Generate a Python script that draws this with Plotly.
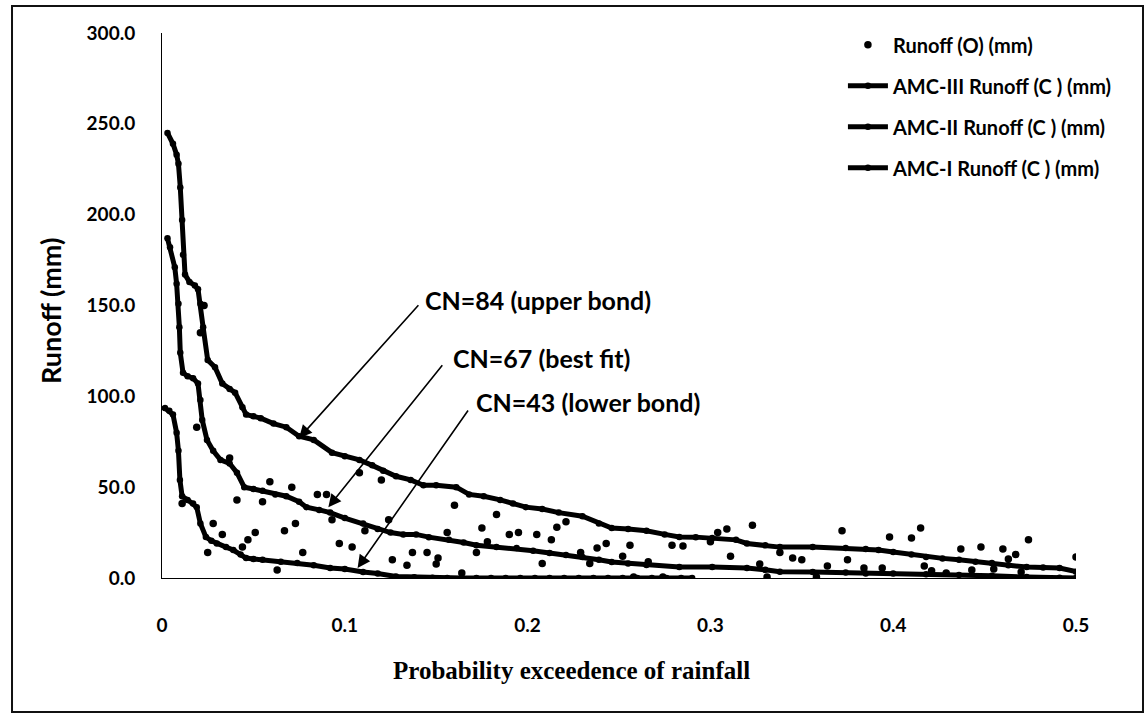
import plotly.graph_objects as go

# Observed runoff (mm) against probability of exceedence of rainfall
obs_p = [0.021, 0.023, 0.019, 0.037, 0.059, 0.071, 0.041, 0.055, 0.085, 0.090,
         0.011, 0.028, 0.033, 0.051, 0.047, 0.044, 0.025, 0.067, 0.073, 0.077,
         0.093, 0.097, 0.104, 0.063, 0.108, 0.120, 0.111, 0.124, 0.126, 0.134,
         0.137, 0.145, 0.151, 0.150, 0.156, 0.160, 0.175, 0.183, 0.172, 0.178,
         0.190, 0.195, 0.205, 0.213, 0.216, 0.221, 0.208, 0.164, 0.229, 0.234,
         0.238, 0.243, 0.256, 0.279, 0.285, 0.304, 0.309, 0.323, 0.300, 0.311,
         0.327, 0.338, 0.345, 0.350, 0.372, 0.375, 0.364, 0.384, 0.252, 0.266,
         0.258, 0.274, 0.331, 0.358, 0.398, 0.410, 0.415, 0.437, 0.448, 0.460,
         0.467, 0.463, 0.474, 0.500, 0.417, 0.421, 0.443, 0.429, 0.455, 0.470,
         0.394]
obs_q = [135, 150, 83, 66, 53, 50, 43, 42, 46, 46,
         41, 30, 24, 25, 21, 17, 14, 26, 30, 14,
         32, 19, 17, 4.4, 58, 54, 26, 32, 10, 7,
         14, 14, 11, 7.7, 25, 40, 27.5, 35, 14, 20,
         24, 25, 24, 21, 28, 31, 8, 2.8, 14, 8,
         16.5, 19, 18, 18, 17.6, 25, 27, 29, 20, 12,
         7.7, 14, 11, 10, 26, 10, 6.6, 5.5, 12, 9,
         0.5, 0.5, 0.5, 0.5, 22.6, 22, 27.5, 16, 17, 16,
         13, 10.5, 21, 11.6, 6.6, 4, 4.4, 2.8, 5, 3.3,
         5.5]

# Computed runoff, AMC-III (CN=84)
amc3_p = [0.003, 0.006, 0.008, 0.009, 0.010, 0.011, 0.0115, 0.0126, 0.015, 0.018,
          0.0197, 0.021, 0.0225, 0.025, 0.029, 0.033, 0.037, 0.040, 0.044, 0.046,
          0.050, 0.054, 0.061, 0.068, 0.075, 0.083, 0.093, 0.100, 0.108, 0.115,
          0.121, 0.128, 0.136, 0.143, 0.150, 0.161, 0.168, 0.176, 0.185, 0.192,
          0.199, 0.208, 0.217, 0.230, 0.239, 0.246, 0.255, 0.265, 0.275, 0.283,
          0.292, 0.301, 0.314, 0.320, 0.330, 0.338, 0.356, 0.374, 0.385, 0.392,
          0.400, 0.410, 0.418, 0.427, 0.436, 0.445, 0.454, 0.463, 0.473, 0.482,
          0.491, 0.500]
amc3_q = [245, 239, 233, 228, 215, 197, 178, 167, 163, 161,
          159, 151, 138, 120, 116, 107, 104, 102, 94, 90,
          89, 88, 85, 83, 78, 76, 69, 67, 65, 62,
          59, 56, 54, 51, 51, 50, 46, 45, 43, 41,
          39, 38, 36, 34, 30, 27.5, 27, 26, 24, 22.6,
          22.5, 22, 21, 19, 18, 17, 17, 16.5, 16, 15.4,
          14.3, 13, 11.6, 10.8, 10, 9, 8.3, 7, 6, 5.8,
          5.5, 3.5]

# Computed runoff, AMC-II (CN=67)
amc2_p = [0.003, 0.0044, 0.007, 0.008, 0.009, 0.0095, 0.010, 0.0115, 0.014, 0.017,
          0.0197, 0.021, 0.022, 0.0246, 0.028, 0.032, 0.037, 0.041, 0.045, 0.050,
          0.055, 0.062, 0.068, 0.075, 0.079, 0.086, 0.092, 0.100, 0.110, 0.118,
          0.125, 0.132, 0.139, 0.146, 0.157, 0.165, 0.172, 0.183, 0.194, 0.203,
          0.212, 0.221, 0.230, 0.239, 0.246, 0.255, 0.265, 0.283, 0.301, 0.320,
          0.330, 0.338, 0.356, 0.374, 0.385, 0.400, 0.418, 0.436, 0.454, 0.473,
          0.491, 0.500]
amc2_q = [187, 182, 171, 162, 151, 138, 124, 113, 111, 110,
          107, 98, 87, 76, 70, 65, 63, 58, 50, 49,
          48, 46, 45, 42, 39, 37.5, 36, 33, 30, 27,
          25, 24, 24, 22.5, 21, 19.5, 18, 17, 16.5, 15,
          13.8, 12.7, 11.6, 10, 8.8, 8, 7.2, 6, 6, 5.5,
          4.5, 3.5, 3.3, 3, 2.5, 2.5, 2, 1.7, 1.2, 0.5,
          0.2, 0]

# Computed runoff, AMC-I (CN=43)
amc1_p = [0.0016, 0.004, 0.006, 0.008, 0.009, 0.0098, 0.011, 0.014, 0.017, 0.019,
          0.021, 0.024, 0.027, 0.030, 0.035, 0.039, 0.043, 0.046, 0.050, 0.055,
          0.065, 0.074, 0.083, 0.092, 0.100, 0.110, 0.118, 0.128, 0.138, 0.148,
          0.156, 0.164, 0.172, 0.180, 0.188, 0.196, 0.204, 0.212, 0.220, 0.228,
          0.236, 0.244, 0.252, 0.260, 0.268, 0.276, 0.284, 0.290]
amc1_q = [93.6, 92, 90, 80, 70, 54, 45, 43, 41, 39,
          30, 22.6, 20.5, 19, 17, 15.4, 13, 11, 10.5, 10,
          9, 8.3, 7, 5.5, 5, 3.3, 2.5, 0.8, 0.4, 0.2,
          0, 0, 0, 0, 0, 0, 0, 0, 0, 0,
          0, 0, 0, 0, 0, 0, 0, 0]

y_ticks = [0, 50, 100, 150, 200, 250, 300]
x_ticks = [0, 0.1, 0.2, 0.3, 0.4, 0.5]
x_tick_text = ["0", "0.1", "0.2", "0.3", "0.4", "0.5"]

# (label, label x, label y, arrow tail x, tail y, head x, head y)
cn_labels = [
    ("CN=84 (upper bond)", 0.1430, 153, 0.141, 151, 0.075, 77),
    ("CN=67 (best fit)", 0.1583, 121, 0.154, 118, 0.091, 39),
    ("CN=43 (lower bond)", 0.1708, 97, 0.168, 93, 0.107, 5.5),
]

INK = "#000000"
SANS = "Lato, 'Open Sans', sans-serif"

fig = go.Figure()
fig.add_trace(go.Scatter(
    x=obs_p, y=obs_q, mode="markers", name="Runoff (O) (mm)",
    marker=dict(color=INK, size=7.5), legendgroup="o"))
for name, px, qy, grp in [
    ("AMC-III Runoff (C ) (mm)", amc3_p, amc3_q, "c3"),
    ("AMC-II Runoff (C ) (mm)", amc2_p, amc2_q, "c2"),
    ("AMC-I Runoff (C ) (mm)", amc1_p, amc1_q, "c1"),
]:
    fig.add_trace(go.Scatter(
        x=px, y=qy, mode="lines+markers", name=name, legendgroup=grp,
        line=dict(color=INK, width=5),
        marker=dict(color=INK, size=6.5)))

annotations = []
for text, lx, ly, tx, ty, hx, hy in cn_labels:
    annotations.append(dict(
        x=hx, y=hy, ax=tx, ay=ty, xref="x", yref="y", axref="x", ayref="y",
        text="", showarrow=True, arrowhead=2, arrowsize=1.6, arrowwidth=1.6,
        arrowcolor=INK))
    annotations.append(dict(
        x=lx, y=ly, xref="x", yref="y", text=text, showarrow=False,
        xanchor="left", yanchor="middle",
        font=dict(family=SANS, size=25, color=INK, weight="bold")))

annotations.append(dict(
    x=0.4475, y=-0.1706, xref="paper", yref="paper",
    text="<b>Probability exceedence of rainfall</b>", showarrow=False,
    xanchor="center", yanchor="middle",
    font=dict(family="'Liberation Serif', 'Times New Roman', serif", size=25, color=INK)))
annotations.append(dict(
    x=-0.1214, y=0.49, xref="paper", yref="paper",
    text="<b>Runoff (mm)</b>", showarrow=False, textangle=-90,
    xanchor="center", yanchor="middle",
    font=dict(family=SANS, size=27, color=INK)))

fig.update_layout(
    width=1146, height=714,
    margin=dict(l=162, r=70, t=33, b=136),
    paper_bgcolor="white", plot_bgcolor="white",
    showlegend=True,
    legend=dict(
        x=0.745, y=1.014, xanchor="left", yanchor="top",
        bgcolor="rgba(0,0,0,0)", traceorder="grouped", tracegroupgap=12,
        font=dict(family=SANS, size=20, color=INK, weight="bold"), itemwidth=40),
    annotations=annotations,
    shapes=[dict(type="rect", xref="paper", yref="paper",
                 x0=-0.1641, x1=1.0733, y0=-0.2459, y1=1.0495,
                 line=dict(color="#111111", width=2))],
)
fig.update_xaxes(
    range=[0, 0.5], tickvals=x_ticks, ticktext=x_tick_text,
    showgrid=False, zeroline=False, showline=True, linecolor=INK, linewidth=1,
    ticks="", ticklabelstandoff=30,
    tickfont=dict(family=SANS, size=19, color=INK, weight="bold"))
fig.update_yaxes(
    range=[0, 300], tickvals=y_ticks, tickformat=".1f",
    showgrid=False, zeroline=False, showline=True, linecolor=INK, linewidth=1,
    ticks="", ticklabelstandoff=22,
    tickfont=dict(family=SANS, size=19, color=INK, weight="bold"))

fig.write_html("out.html")
